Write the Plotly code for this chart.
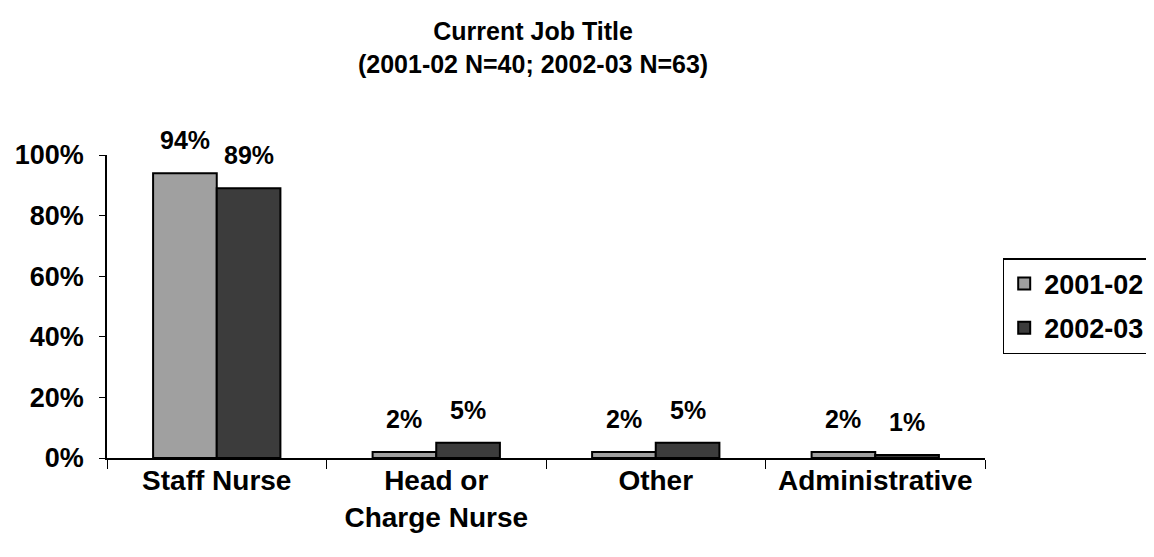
import plotly.graph_objects as go

categories = ["Staff Nurse", "Head or<br>Charge Nurse", "Other", "Administrative"]
series_names = ["2001-02", "2002-03"]
values_2001 = [0.94, 0.02, 0.02, 0.02]
values_2002 = [0.89, 0.05, 0.05, 0.01]
labels_2001 = ["94%", "2%", "2%", "2%"]
labels_2002 = ["89%", "5%", "5%", "1%"]

font_family = "Liberation Sans, Arial, sans-serif"
plot_w = 879
bargap = 0.42
bar_px = plot_w / len(categories) * (1 - bargap) / 2

fig = go.Figure()
fig.add_trace(go.Bar(
    x=categories, y=values_2001, name="<b>" + series_names[0] + "</b>",
    legendgroup="a",
    marker=dict(color="#a0a0a0", line=dict(color="#000000", width=2)),
))
fig.add_trace(go.Bar(
    x=categories, y=values_2002, name="<b>" + series_names[1] + "</b>",
    legendgroup="b",
    marker=dict(color="#3c3c3c", line=dict(color="#000000", width=2)),
))

for vals, labs, sign in [(values_2001, labels_2001, -1), (values_2002, labels_2002, 1)]:
    for c, v, t in zip(categories, vals, labs):
        fig.add_annotation(
            x=c, y=v, text="<b>" + t + "</b>", showarrow=False,
            xshift=sign * bar_px / 2, yshift=17, yanchor="bottom",
            font=dict(size=25, color="#000000", family=font_family),
        )

fig.update_layout(
    width=1154, height=557,
    paper_bgcolor="white", plot_bgcolor="white",
    margin=dict(l=99, r=1154 - 99 - plot_w, t=147, b=107),
    barmode="group", bargap=bargap, bargroupgap=0,
    title=dict(
        text="<b>Current Job Title<br>(2001-02 N=40; 2002-03 N=63)</b>",
        x=0.455, xref="container", xanchor="center",
        y=0.942, yref="container", yanchor="top",
        font=dict(size=25, family=font_family, color="#000000"),
    ),
    font=dict(family=font_family, color="#000000"),
    legend=dict(
        x=1.019, xref="paper", y=0.66, yanchor="top", xanchor="left",
        bordercolor="#000000", borderwidth=1.5,
        font=dict(size=27, family=font_family, color="#000000"),
        itemwidth=30,
        traceorder="grouped", tracegroupgap=6,
    ),
    showlegend=True,
)
fig.update_xaxes(
    showline=True, linecolor="#000000", linewidth=1.5,
    ticks="outside", tickson="boundaries", ticklen=9, tickcolor="#000000",
    tickfont=dict(size=28, family=font_family, color="#000000"),
    showgrid=False,
    tickprefix="<b>", ticksuffix="</b>",
    ticklabelstandoff=-3,
    automargin=False,
)
fig.update_yaxes(
    range=[0, 1], dtick=0.2, tickformat=".0%",
    showline=True, linecolor="#000000", linewidth=1.5,
    ticks="outside", ticklen=6, tickcolor="#000000",
    tickfont=dict(size=27, family=font_family, color="#000000"),
    showgrid=False, zeroline=False,
    tickprefix="<b>", ticksuffix="</b>",
    ticklabelstandoff=10,
    automargin=False,
)

fig.write_html("out.html")
